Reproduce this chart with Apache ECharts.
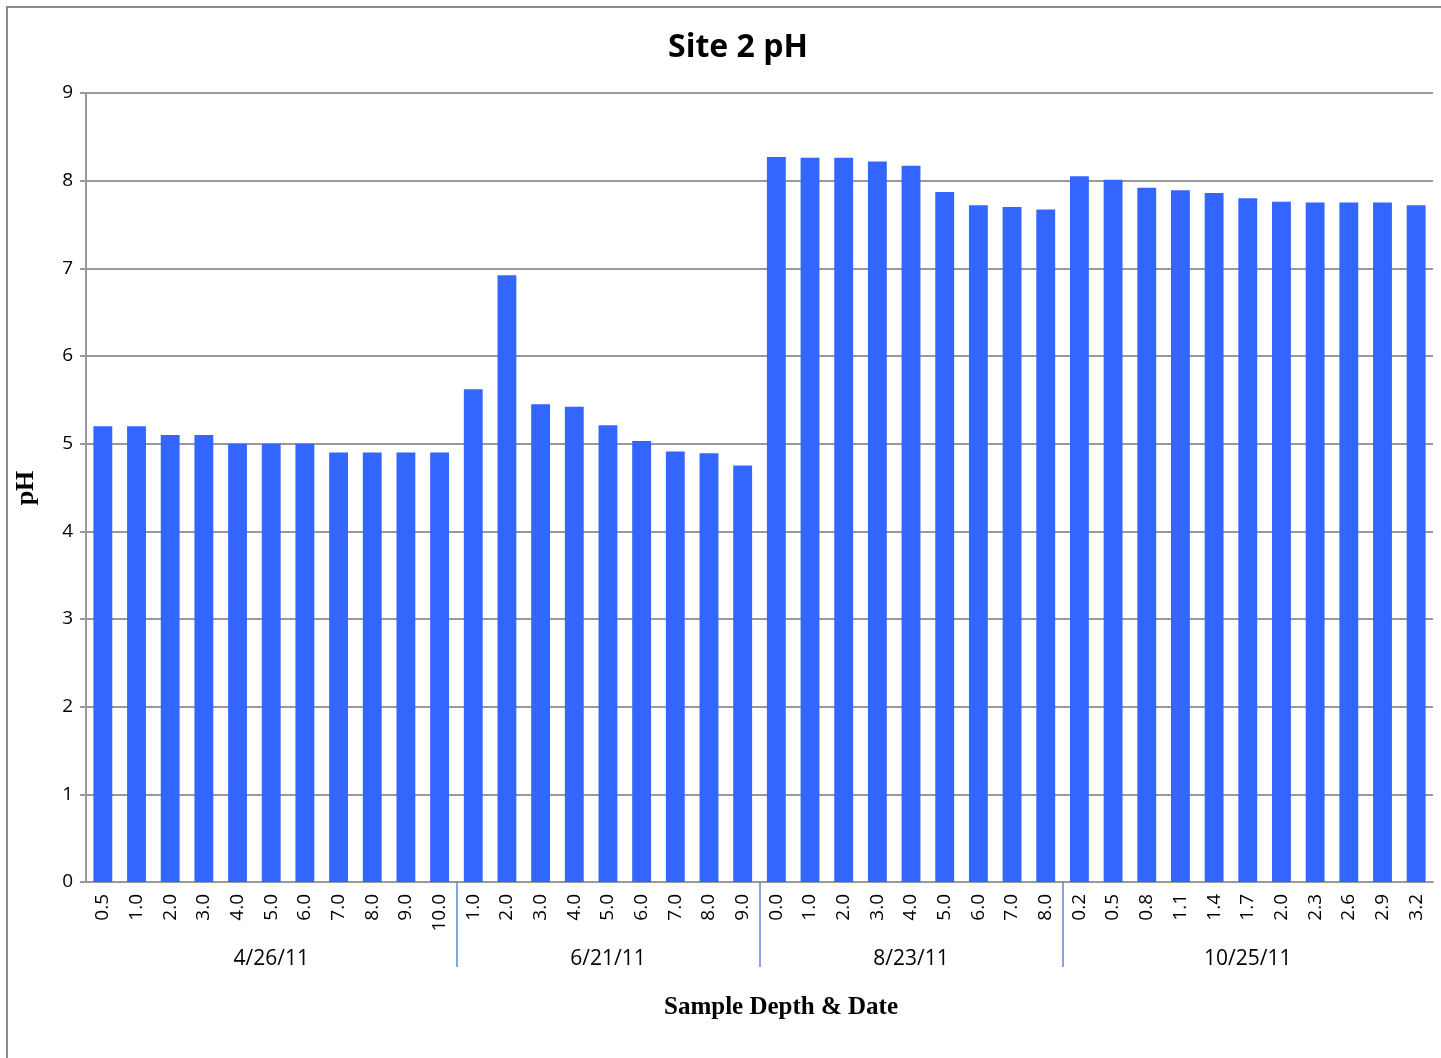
<!DOCTYPE html>
<html>
<head>
<meta charset="utf-8">
<script src="https://cdn.jsdelivr.net/npm/echarts@6/dist/echarts.min.js"></script>
<style>
  html, body { margin: 0; padding: 0; background: #fff; }
  #chart { width: 1441px; height: 1058px; }
</style>
</head>
<body>
<div id="chart"></div>
<script>
// sample depths, one per bar
const depths = [
    '0.5', '1.0', '2.0', '3.0', '4.0', '5.0', '6.0', '7.0', '8.0', '9.0', '10.0',
    '1.0', '2.0', '3.0', '4.0', '5.0', '6.0', '7.0', '8.0', '9.0',
    '0.0', '1.0', '2.0', '3.0', '4.0', '5.0', '6.0', '7.0', '8.0',
    '0.2', '0.5', '0.8', '1.1', '1.4', '1.7', '2.0', '2.3', '2.6', '2.9', '3.2'
];
const phValues = [
    5.2, 5.2, 5.1, 5.1, 5.0, 5.0, 5.0, 4.9, 4.9, 4.9, 4.9,
    5.62, 6.92, 5.45, 5.42, 5.21, 5.03, 4.91, 4.89, 4.75,
    8.27, 8.26, 8.26, 8.22, 8.17, 7.87, 7.72, 7.70, 7.67,
    8.05, 8.01, 7.92, 7.89, 7.86, 7.80, 7.76, 7.75, 7.75, 7.75, 7.72
];
// sample dates and how many depths each has
const dates = ['4/26/11', '6/21/11', '8/23/11', '10/25/11'];
const dateCounts = [11, 9, 9, 11];
const yTicks = [0, 1, 2, 3, 4, 5, 6, 7, 8, 9];

// group boundaries and centers, in bar units
let bounds = [];
let centers = [];
let run = 0;
dateCounts.forEach((n, i) => {
    centers.push(run + n / 2);
    run += n;
    if (i < dateCounts.length - 1) bounds.push(run);
});

const chart = echarts.init(document.getElementById('chart'));

const option = {
    backgroundColor: '#fff',
    animation: false,
    title: {
        text: 'Site 2 pH',
        left: 733,
        top: 27,
        textAlign: 'center',
        textStyle: { fontFamily: 'Open Sans', fontWeight: 'bold', fontSize: 32, color: '#000' }
    },
    graphic: [
        {
            type: 'polyline',
            shape: { points: [[7, 1058], [7, 7], [1441, 7]] },
            style: { stroke: '#8c8c8c', lineWidth: 2, fill: null }
        },
        {
            type: 'text',
            left: 664,
            top: 995,
            style: { text: 'Sample Depth & Date', font: 'bold 25px "Liberation Serif"', fill: '#000' }
        },
        {
            type: 'text',
            x: 26,
            y: 488,
            rotation: Math.PI / 2,
            style: { text: 'pH', font: 'bold 26px "Liberation Serif"', fill: '#000', align: 'center', verticalAlign: 'middle' }
        }
    ],
    grid: { left: 86, right: 8, top: 93, bottom: 176 },
    xAxis: [
        {
            type: 'category',
            data: depths,
            axisLine: { lineStyle: { color: '#999', width: 2 } },
            axisTick: { show: false },
            axisLabel: {
                interval: 0,
                rotate: 90,
                margin: 12,
                fontFamily: 'Open Sans',
                fontSize: 19,
                color: '#000'
            }
        },
        {
            type: 'value',
            position: 'bottom',
            min: 0,
            max: depths.length,
            axisLine: { show: false },
            splitLine: { show: false },
            axisTick: {
                show: true,
                customValues: bounds,
                length: 85,
                lineStyle: { color: '#5b8bd0', width: 1.5 }
            },
            axisLabel: {
                customValues: centers,
                margin: 67,
                fontFamily: 'Open Sans',
                fontSize: 21,
                color: '#000',
                formatter: v => dates[centers.indexOf(v)] || ''
            }
        }
    ],
    yAxis: {
        type: 'value',
        min: yTicks[0],
        max: yTicks[yTicks.length - 1],
        interval: 1,
        axisLine: { show: true, lineStyle: { color: '#999', width: 2 } },
        axisTick: { show: true, length: 6, lineStyle: { color: '#999', width: 2 } },
        axisLabel: { fontFamily: 'Open Sans', fontSize: 19, color: '#000', margin: 13 },
        splitLine: { lineStyle: { color: '#999', width: 2 } }
    },
    series: [
        {
            type: 'bar',
            xAxisIndex: 0,
            data: phValues,
            barCategoryGap: '44%',
            itemStyle: { color: '#3366ff' }
        }
    ]
};

chart.setOption(option);
</script>
</body>
</html>
